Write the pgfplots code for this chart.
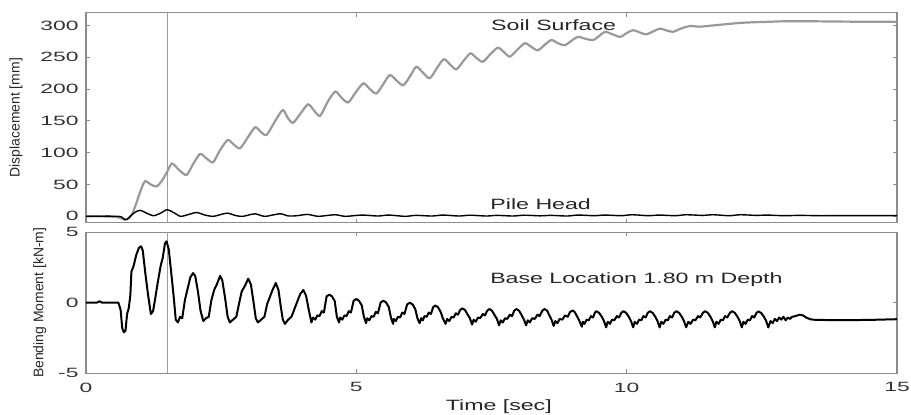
\documentclass[border=0pt]{standalone}
\usepackage{fontspec}
\setmainfont{Liberation Sans}
\newfontfamily\widefont[FakeStretch=1.55]{Liberation Sans}
\newfontfamily\tickfont[FakeStretch=1.7]{Liberation Sans}
\usepackage{pgfplots}
\pgfplotsset{compat=1.18}
\definecolor{framegray}{HTML}{8C8C8C}
\definecolor{soilgray}{HTML}{999999}
\pgfplotsset{
  myaxis/.style={
    scale only axis, width=811bp, xmin=0, xmax=15,
    axis line style={framegray, line width=1.2bp},
    tick style={framegray, line width=0.9bp},
    major tick length=4bp,
    tick align=inside,
    xtick={0,5,10,15},
    tick label style={font=\tickfont\fontsize{13.5}{15}\selectfont, text=black!80},
    /pgf/number format/assume math mode=true,
    label style={font=\fontsize{14}{16}\selectfont, text=black!85},
    yticklabel style={xshift=-4bp},
  }
}
\begin{document}
\begin{tikzpicture}
\path[use as bounding box] (-86bp,-192.3bp) rectangle (825bp,222.7bp);
\begin{axis}[myaxis, at={(0,0)}, anchor=south west, height=210bp,
  ymin=-10, ymax=320, ytick={0,50,100,150,200,250,300}, xticklabels={},
  ylabel={Displacement [mm]},
  ylabel style={at={(rel axis cs:-0.0863,0.5)}, anchor=center, rotate=0}]
\addplot[framegray!85, line width=1.2bp] coordinates {(1.5,-10) (1.5,320)};
\addplot[soilgray, line width=2.2bp, smooth, tension=0.45] coordinates {
(0,0) (0.3,0) (0.55,-1) (0.65,-3) (0.72,-5.5) (0.78,-3) (0.85,3) (0.92,18) (1.0,38) (1.09,55)
(1.2,50) (1.31,47) (1.42,58) (1.5,70) (1.59,83) (1.72,73) (1.86,65) (1.98,82) (2.11,98)
(2.23,91) (2.35,85) (2.48,104) (2.62,120) (2.73,113) (2.85,107) (3.0,125) (3.13,140)
(3.23,133) (3.34,128) (3.5,150) (3.64,167) (3.73,155) (3.83,147) (3.97,162) (4.11,176)
(4.22,166) (4.33,158) (4.47,180) (4.61,196) (4.73,186) (4.85,179) (4.99,195) (5.13,209)
(5.25,200) (5.37,193) (5.5,208) (5.62,222) (5.75,213) (5.87,206) (6.0,221) (6.11,235)
(6.24,225) (6.36,217) (6.49,233) (6.62,247) (6.74,238) (6.85,231) (6.98,244) (7.11,256)
(7.22,249) (7.34,243) (7.48,255) (7.62,265) (7.73,258) (7.84,251) (7.98,262) (8.12,272)
(8.24,266) (8.36,261) (8.49,270) (8.61,277) (8.73,272) (8.86,269) (8.98,276) (9.1,282)
(9.24,279) (9.38,277) (9.5,284) (9.6,290) (9.74,286) (9.88,282) (10.0,288) (10.12,292.6)
(10.24,289) (10.36,286) (10.5,291) (10.62,295) (10.74,292) (10.86,290) (11.0,295) (11.17,299)
(11.35,298) (11.6,300) (11.85,302) (12.1,304) (12.35,305) (12.59,305.6) (12.9,306.5)
(13.2,306.7) (14.0,306) (15.0,305.6)};
\addplot[black, line width=1.4bp, smooth, tension=0.45] coordinates {
(0,0) (0.6,0) (0.7,-4) (0.76,-5) (0.82,0) (0.9,6) (1.0,9.5) (1.12,5) (1.25,1) (1.38,5)
(1.5,10.5) (1.62,6) (1.75,0) (1.9,3) (2.05,6) (2.2,2) (2.35,0) (2.5,3) (2.62,5) (2.78,1)
(2.9,0) (3.05,3) (3.13,4) (3.3,0) (3.45,2) (3.6,4) (3.75,0.5) (3.9,1) (4.1,3) (4.3,0)
(4.6,2.5) (4.8,0) (5.1,2) (5.4,0.5) (5.6,2) (5.9,0) (6.1,1.5) (6.4,0.5) (6.6,2) (6.9,0.5)
(7.1,1.8) (7.4,0.5) (7.6,1.5) (7.9,0.5) (8.1,1.8) (8.4,0.8) (8.6,1.5) (8.9,0.5) (9.1,2)
(9.4,1) (9.6,2) (9.9,1) (10.1,2.5) (10.4,1) (10.6,2) (10.9,1) (11.1,2.5) (11.4,1.5)
(11.6,2.5) (11.9,1) (12.1,2.5) (12.4,1.5) (12.6,2) (12.9,1) (13.2,1.5) (13.6,1) (14.2,1.2) (15,1)};
\node[font=\widefont\fontsize{15}{17}\selectfont, anchor=base, text=black!85] at (axis cs:8.65,291.5) {Soil Surface};
\node[font=\widefont\fontsize{15}{17}\selectfont, anchor=base, text=black!85] at (axis cs:8.41,10.5) {Pile Head};
\end{axis}
\begin{axis}[myaxis, at={(0,-150.5bp)}, anchor=south west, height=141bp,
  ymin=-5, ymax=5, ytick={-5,0,5},
  xticklabel style={yshift=-6bp},
  ylabel={Bending Moment [kN-m]},
  ylabel style={at={(rel axis cs:-0.0571,0.5)}, anchor=center, rotate=0},
  xlabel={Time [sec]},
  xlabel style={at={(rel axis cs:0.509,0)}, anchor=base, yshift=-37bp, font=\widefont\fontsize{15}{17}\selectfont}]
\addplot[framegray!85, line width=1.2bp] coordinates {(1.5,-5) (1.5,5)};
\addplot[black, line width=2bp, line join=round] coordinates {
(0,0) (0.2,0) (0.25,0.1) (0.3,0) (0.6,0) (0.64,-0.5) (0.67,-1.8) (0.7,-2.1) (0.73,-2.0)
(0.76,-0.8) (0.79,-0.4) (0.82,0.5) (0.84,2.2) (0.88,2.6) (0.93,3.4) (0.98,3.9) (1.02,4.0)
(1.05,3.7) (1.1,2.0) (1.15,0.5) (1.2,-0.8) (1.24,-0.6) (1.28,0.3) (1.33,1.5) (1.38,2.6)
(1.42,3.2) (1.46,4.2) (1.49,4.35) (1.53,3.8) (1.58,2.0) (1.62,0.5) (1.66,-1.2) (1.7,-1.4)
(1.74,-1.0) (1.78,-1.1) (1.83,0.2) (1.88,1.0) (1.93,1.8) (1.98,2.1) (2.02,1.9) (2.07,0.8)
(2.12,-0.6) (2.17,-1.3) (2.22,-1.1) (2.27,-1.0) (2.32,0.2) (2.37,0.9) (2.42,1.3) (2.48,1.9)
(2.52,1.6) (2.57,0.4) (2.62,-1.0) (2.66,-1.4) (2.72,-1.2) (2.78,-1.0) (2.84,0.1) (2.88,0.8)
(2.94,1.2) (3.0,1.7) (3.05,1.3) (3.1,0.0) (3.14,-1.1) (3.18,-1.4) (3.24,-1.2) (3.3,-1.0)
(3.35,-0.1) (3.4,0.4) (3.45,0.9) (3.51,1.4) (3.56,0.9) (3.6,-0.2) (3.64,-1.2) (3.68,-1.5)
(3.74,-1.2) (3.8,-1.0) (3.85,-0.5) (3.9,0.0) (3.96,0.6) (4.02,0.9) (4.07,0.5) (4.12,-0.5)
(4.17,-1.4)
(4.20,-1.05) (4.24,-1.2) (4.28,-0.9) (4.32,-0.95) (4.36,-0.6) (4.40,-0.7) (4.45,0.45) (4.50,0.57) (4.55,0.45) (4.60,0.12) (4.64,-1.0) (4.68,-1.4)
(4.70,-1.05) (4.74,-1.2) (4.78,-0.9) (4.82,-0.95) (4.86,-0.6) (4.90,-0.7) (4.95,0.14) (5.00,0.26) (5.05,0.14) (5.10,-0.19) (5.14,-1.0) (5.18,-1.45)
(5.20,-1.1) (5.24,-1.25) (5.28,-0.95) (5.32,-1.0) (5.36,-0.65) (5.40,-0.75) (5.45,0.02) (5.50,0.14) (5.55,0.02) (5.60,-0.31) (5.64,-1.05) (5.68,-1.5)
(5.69,-1.15) (5.73,-1.3) (5.77,-1.0) (5.81,-1.05) (5.85,-0.7) (5.89,-0.8) (5.94,-0.12) (5.99,0.0) (6.04,-0.12) (6.09,-0.45) (6.13,-1.1) (6.17,-1.45)
(6.20,-1.1) (6.23,-1.25) (6.26,-0.95) (6.30,-1.0) (6.34,-0.7) (6.38,-0.8) (6.42,-0.32) (6.46,-0.2) (6.51,-0.32) (6.56,-0.65) (6.60,-1.1) (6.65,-1.5)
(6.68,-1.15) (6.72,-1.3) (6.76,-1.0) (6.80,-1.05) (6.84,-0.75) (6.88,-0.85) (6.92,-0.52) (6.96,-0.4) (7.01,-0.52) (7.06,-0.85) (7.10,-1.1) (7.14,-1.55)
(7.17,-1.2) (7.21,-1.35) (7.25,-1.05) (7.29,-1.1) (7.34,-0.8) (7.38,-0.9) (7.42,-0.57) (7.46,-0.45) (7.51,-0.57) (7.56,-0.9) (7.60,-1.15) (7.64,-1.6)
(7.67,-1.25) (7.71,-1.4) (7.75,-1.1) (7.79,-1.15) (7.84,-0.85) (7.88,-0.95) (7.92,-0.57) (7.96,-0.45) (8.01,-0.57) (8.06,-0.9) (8.10,-1.2) (8.14,-1.6)
(8.17,-1.25) (8.21,-1.4) (8.25,-1.1) (8.30,-1.15) (8.35,-0.85) (8.39,-0.95) (8.44,-0.57) (8.48,-0.45) (8.53,-0.57) (8.57,-0.9) (8.61,-1.2) (8.65,-1.65)
(8.68,-1.3) (8.72,-1.45) (8.76,-1.15) (8.81,-1.2) (8.86,-0.9) (8.91,-1.0) (8.95,-0.67) (9.0,-0.55) (9.04,-0.67) (9.08,-0.95) (9.12,-1.25) (9.17,-1.7)
(9.19,-1.35) (9.22,-1.5) (9.26,-1.2) (9.30,-1.25) (9.34,-0.95) (9.38,-1.05) (9.41,-0.72) (9.44,-0.6) (9.49,-0.72) (9.54,-1.0) (9.58,-1.3) (9.62,-1.75)
(9.65,-1.35) (9.69,-1.5) (9.73,-1.2) (9.77,-1.25) (9.82,-0.95) (9.86,-1.05) (9.90,-0.72) (9.94,-0.6) (9.99,-0.72) (10.04,-1.0) (10.08,-1.3) (10.12,-1.75)
(10.15,-1.35) (10.19,-1.5) (10.23,-1.2) (10.27,-1.25) (10.31,-0.95) (10.35,-1.05) (10.39,-0.72) (10.43,-0.6) (10.48,-0.72) (10.53,-1.0) (10.57,-1.3) (10.61,-1.75)
(10.64,-1.35) (10.68,-1.5) (10.72,-1.2) (10.76,-1.25) (10.80,-0.95) (10.84,-1.05) (10.88,-0.72) (10.92,-0.6) (10.97,-0.72) (11.02,-1.0) (11.06,-1.3) (11.10,-1.75)
(11.14,-1.35) (11.18,-1.5) (11.23,-1.2) (11.27,-1.25) (11.32,-0.95) (11.36,-1.05) (11.41,-0.72) (11.45,-0.6) (11.50,-0.72) (11.55,-1.0) (11.59,-1.3) (11.63,-1.75)
(11.66,-1.35) (11.70,-1.5) (11.74,-1.2) (11.78,-1.25) (11.82,-0.95) (11.86,-1.05) (11.91,-0.72) (11.95,-0.6) (12.0,-0.72) (12.05,-1.0) (12.09,-1.3) (12.13,-1.75)
(12.16,-1.35) (12.20,-1.5) (12.24,-1.2) (12.28,-1.25) (12.32,-0.95) (12.36,-1.05) (12.40,-0.72) (12.44,-0.62) (12.49,-0.74) (12.54,-1.0) (12.58,-1.3) (12.62,-1.75)
(12.66,-1.3) (12.70,-1.45) (12.74,-1.15) (12.78,-1.3) (12.82,-1.05) (12.86,-1.2) (12.90,-1.0) (12.94,-1.25) (12.98,-1.05) (13.02,-1.15)
(13.06,-1.0) (13.12,-0.95) (13.2,-0.85) (13.26,-0.9) (13.32,-1.05) (13.4,-1.18) (13.5,-1.22) (14.0,-1.24) (14.5,-1.22) (15,-1.17)};
\node[font=\widefont\fontsize{15}{17}\selectfont, anchor=base, text=black!85] at (axis cs:10.18,1.36) {Base Location 1.80 m Depth};
\end{axis}
\end{tikzpicture}
\end{document}
